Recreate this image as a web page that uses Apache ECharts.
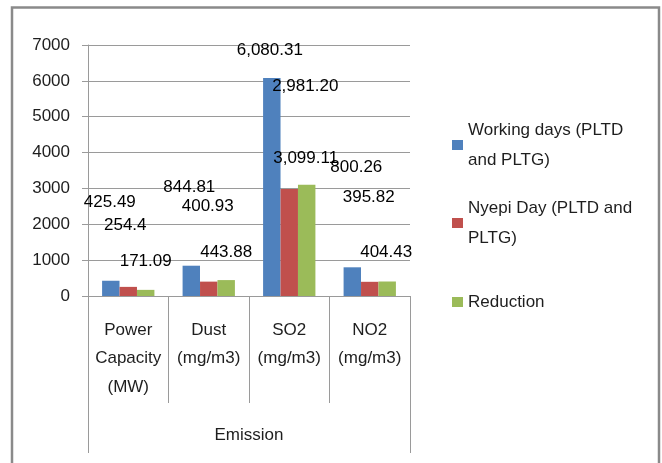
<!DOCTYPE html>
<html>
<head>
<meta charset="utf-8">
<script src="https://cdn.jsdelivr.net/npm/echarts@6/dist/echarts.min.js"></script>
<style>
  html, body { margin: 0; padding: 0; background: #fff; }
  #main { width: 662px; height: 463px; }
</style>
</head>
<body>
<div id="main"></div>
<script>
// categories + values
var categories = ['Power\nCapacity\n(MW)', 'Dust\n(mg/m3)', 'SO2\n(mg/m3)', 'NO2\n(mg/m3)'];
var groupName = ['Emission'];
var seriesNames = ['Working days (PLTD and PLTG)', 'Nyepi Day (PLTD and PLTG)', 'Reduction'];
var workingDays = [425.49, 844.81, 6080.31, 800.26];
var nyepiDay = [254.4, 400.93, 2981.20, 395.82];
var reduction = [171.09, 443.88, 3099.11, 404.43];
var labelText = [
    ['425.49', '844.81', '6,080.31', '800.26'],
    ['254.4', '400.93', '2,981.20', '395.82'],
    ['171.09', '443.88', '3,099.11', '404.43']
];
var yTicks = [0, 1000, 2000, 3000, 4000, 5000, 6000, 7000];

// the labels in the source float away from their bars, shift them (px)
var labelShift = [
    [[-1, -86], [-2, -94], [-2, -137], [4, -114]],
    [[-3, -66], [-1, -82], [16, -156], [-1, -92]],
    [[0, -32], [0, -36], [-1, -82], [-1, -36]]
];

var colors = ['#4F81BD', '#C0504D', '#9BBB59'];
var font = "'Liberation Sans', Arial, sans-serif";
var gridColor = '#9a9a9a';
var textColor = '#1e1e1e';

function buildData(vals, idx) {
    return vals.map(function (v, i) {
        return {
            value: v,
            label: {offset: labelShift[idx][i], formatter: labelText[idx][i]}
        };
    });
}

var allVals = [workingDays, nyepiDay, reduction];
var series = allVals.map(function (vals, idx) {
    return {
        name: seriesNames[idx],
        type: 'bar',
        xAxisIndex: 0,
        barGap: '0%',
        barCategoryGap: '35%',
        itemStyle: {color: colors[idx]},
        label: {
            show: true,
            position: 'inside',
            color: '#000',
            fontSize: 17,
            fontFamily: font
        },
        data: buildData(vals, idx)
    };
});

var legendLines = {
    'Working days (PLTD and PLTG)': 'Working days (PLTD\nand PLTG)',
    'Nyepi Day (PLTD and PLTG)': 'Nyepi Day (PLTD and\nPLTG)',
    'Reduction': 'Reduction'
};
var legendTop = [100, 178, 287];

var legends = seriesNames.map(function (n, i) {
    var twoLines = legendLines[n].indexOf('\n') > -1;
    return {
        data: [n],
        orient: 'vertical',
        left: 452,
        top: legendTop[i],
        padding: 0,
        itemWidth: 11,
        itemHeight: 10,
        selectedMode: false,
        icon: 'rect',
        formatter: function (name) { return legendLines[name]; },
        textStyle: {
            fontSize: 17,
            lineHeight: 30,
            color: textColor,
            fontFamily: font,
            padding: twoLines ? [30, 0, 0, 0] : 0
        }
    };
});

var chart = echarts.init(document.getElementById('main'));
chart.setOption({
    animation: false,
    backgroundColor: '#fff',
    textStyle: {fontFamily: font},
    grid: {left: 88, right: 252, top: 45, bottom: 167, containLabel: false},
    legend: legends,
    graphic: [{
        type: 'rect',
        shape: {x: 12, y: 7.5, width: 647, height: 470},
        style: {fill: 'none', stroke: '#8a8a8a', lineWidth: 2.5},
        silent: true
    }],
    xAxis: [
        {
            type: 'category',
            data: categories,
            position: 'bottom',
            axisLine: {onZero: false, lineStyle: {color: gridColor}},
            axisTick: {show: true, interval: 0, length: 107, lineStyle: {color: gridColor}},
            axisLabel: {
                interval: 0,
                margin: 20,
                fontSize: 17,
                lineHeight: 28.5,
                color: textColor,
                fontFamily: font
            }
        },
        {
            type: 'category',
            data: groupName,
            position: 'bottom',
            axisLine: {show: false, onZero: false},
            axisTick: {show: true, length: 157, lineStyle: {color: gridColor}},
            axisLabel: {
                margin: 129,
                fontSize: 17,
                lineHeight: 20,
                color: textColor,
                fontFamily: font
            }
        }
    ],
    yAxis: {
        type: 'value',
        min: yTicks[0],
        max: yTicks[yTicks.length - 1],
        interval: yTicks[1] - yTicks[0],
        axisLine: {show: true, lineStyle: {color: gridColor}},
        axisTick: {show: true, length: 6, lineStyle: {color: gridColor}},
        splitLine: {lineStyle: {color: gridColor}},
        axisLabel: {
            margin: 18,
            fontSize: 17,
            color: textColor,
            fontFamily: font,
            formatter: function (v) { return String(v); }
        }
    },
    series: series
});
</script>
</body>
</html>
